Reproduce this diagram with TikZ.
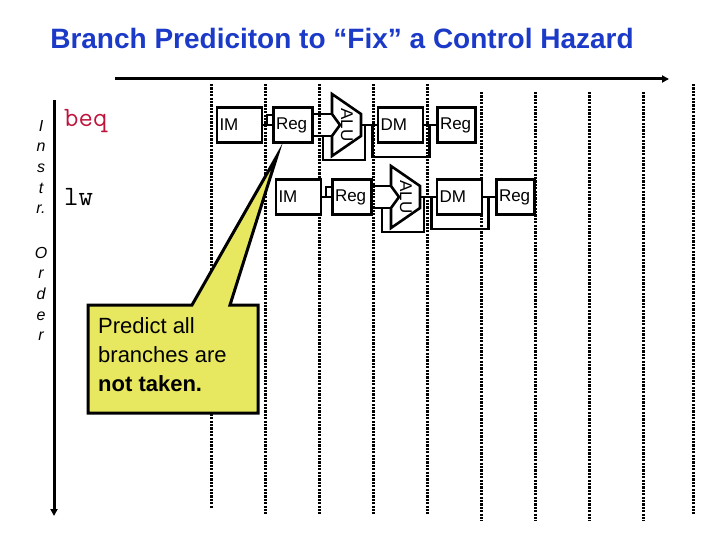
\documentclass[tikz,border=0pt]{standalone}
\usepackage{fontspec}
\setmainfont{Liberation Sans}
\usetikzlibrary{positioning, arrows.meta, calc}
\definecolor{titleblue}{RGB}{28,58,200}
\definecolor{beqred}{RGB}{190,20,60}
\definecolor{noteyellow}{RGB}{232,232,96}

\begin{document}
\begin{tikzpicture}[
    x=1pt, y=-1pt,
    stage/.style={draw, line width=2.6pt, fill=white, minimum height=35pt, inner xsep=2.5pt, inner ysep=0pt, align=left, font=\fontsize{17}{18}\selectfont},
    wire/.style={line width=2.6pt},
    alu/.style={draw, line width=2.6pt, fill=white, line join=miter},
    alulabel/.style={rotate=-90, inner sep=0pt, font=\fontsize{17}{18}\selectfont},
    cycleline/.style={line width=3pt, dash pattern=on 2.2pt off 1.2pt},
    timeline/.style={line width=3pt, -{Triangle[length=7pt, width=7pt]}},
    instr/.style={anchor=west, inner sep=0pt, font=\ttfamily\fontsize{28}{28}\selectfont},
    order/.style={align=center, inner sep=0pt, font=\itshape\fontsize{16}{20.6}\selectfont},
    callout/.style={draw, line width=3pt, fill=noteyellow, line join=miter},
    notetext/.style={anchor=north west, inner sep=0pt, align=left, font=\fontsize{22}{29}\selectfont}
  ]

  \useasboundingbox (0,0) rectangle (720,540);

  % title
  \node[font=\bfseries\fontsize{28}{32}\selectfont, text=titleblue] (title) at (342,38) {Branch Prediciton to “Fix” a Control Hazard};

  % time and order arrows
  \coordinate (tstart) at (115,79);
  \coordinate (tend) at (669,79);
  \draw[timeline] (tstart) -- (tend);
  \coordinate (ostart) at (54,100);
  \coordinate (oend) at (54,516);
  \draw[timeline] (ostart) -- (oend);

  \node[order] (instrlbl) at (41,167) {I\\n\\s\\t\\r.};
  \node[order] (orderlbl) at (41,294) {O\\r\\d\\e\\r};

  % ── clock cycle lines ──
  \draw[cycleline] (211,84) -- (211,508);
  \draw[cycleline] (265,84) -- (265,514);
  \draw[cycleline] (319,84) -- (319,514);
  \draw[cycleline] (373,84) -- (373,514);
  \draw[cycleline] (427,84) -- (427,514);
  \draw[cycleline] (481,92) -- (481,521);
  \draw[cycleline] (535,92) -- (535,521);
  \draw[cycleline] (589,92) -- (589,521);
  \draw[cycleline] (643,92) -- (643,521);
  \draw[cycleline] (693,84) -- (693,514);

  % ── beq ──
  \node[instr, text=beqred] (beq) at (64,121) {beq};
  \node[stage, text width=40pt] (im1) at (239.5,125) {IM};
  \node[stage, text width=34pt] (reg1) at (293,125) {Reg};
  \coordinate (alu1) at (332,125);
  \draw[alu] (alu1) ++(0,-31) -- ++(29,20) -- ++(0,22) -- ++(-29,20) -- ++(0,-20) -- ++(8,-11) -- ++(-8,-11) -- cycle;
  \node[alulabel] (alulbl1) at (347,125) {ALU};
  \coordinate (alu1in1) at (332,114);
  \coordinate (alu1in2) at (332,136);
  \coordinate (alu1out) at (361,125);
  \node[stage, text width=40pt] (dm1) at (400.5,125) {DM};
  \node[stage, text width=33pt] (wb1) at (456.5,125) {Reg};

  \draw[wire] (im1.east) -- (reg1.west);
  \draw[wire] ($(im1.east)!0.4!(reg1.west)$) |- ($(reg1.west)+(0,-10)$);
  \draw[wire] (reg1.east |- alu1in1) -- (alu1in1);
  \draw[wire] (reg1.east |- alu1in2) -- (alu1in2);
  \draw[wire] ($(reg1.east |- alu1in2)!0.5!(alu1in2)$) -- ++(0,24) -| ($(alu1out)+(4,0)$);
  \draw[wire] (alu1out) -- (dm1.west);
  \draw[wire] ($(dm1.west)+(-4,0)$) -- ++(0,32) -| ($(dm1.east)+(5,0)$);
  \draw[wire] (dm1.east) -- (wb1.west);

  % ── lw ──
  \node[instr] (lw) at (64,197) {lw};
  \node[stage, text width=40pt] (im2) at (298.5,197) {IM};
  \node[stage, text width=34pt] (reg2) at (352,197) {Reg};
  \coordinate (alu2) at (391,197);
  \draw[alu] (alu2) ++(0,-31) -- ++(29,20) -- ++(0,22) -- ++(-29,20) -- ++(0,-20) -- ++(8,-11) -- ++(-8,-11) -- cycle;
  \node[alulabel] (alulbl2) at (406,197) {ALU};
  \coordinate (alu2in1) at (391,186);
  \coordinate (alu2in2) at (391,208);
  \coordinate (alu2out) at (420,197);
  \node[stage, text width=40pt] (dm2) at (459.5,197) {DM};
  \node[stage, text width=33pt] (wb2) at (515.5,197) {Reg};

  \draw[wire] (im2.east) -- (reg2.west);
  \draw[wire] ($(im2.east)!0.4!(reg2.west)$) |- ($(reg2.west)+(0,-10)$);
  \draw[wire] (reg2.east |- alu2in1) -- (alu2in1);
  \draw[wire] (reg2.east |- alu2in2) -- (alu2in2);
  \draw[wire] ($(reg2.east |- alu2in2)!0.5!(alu2in2)$) -- ++(0,24) -| ($(alu2out)+(4,0)$);
  \draw[wire] (alu2out) -- (dm2.west);
  \draw[wire] ($(dm2.west)+(-4,0)$) -- ++(0,32) -| ($(dm2.east)+(5,0)$);
  \draw[wire] (dm2.east) -- (wb2.west);

  % ── callout ──
  \coordinate (tip) at (277,156);
  \draw[callout] (88,305) -- (192,305) -- (tip) -- (230,305) -- (258,305) -- (258,413) -- (88,413) -- cycle;
  \node[notetext] (note) at (98,317) {Predict all\\branches are\\\textbf{not taken.}};

\end{tikzpicture}
\end{document}
